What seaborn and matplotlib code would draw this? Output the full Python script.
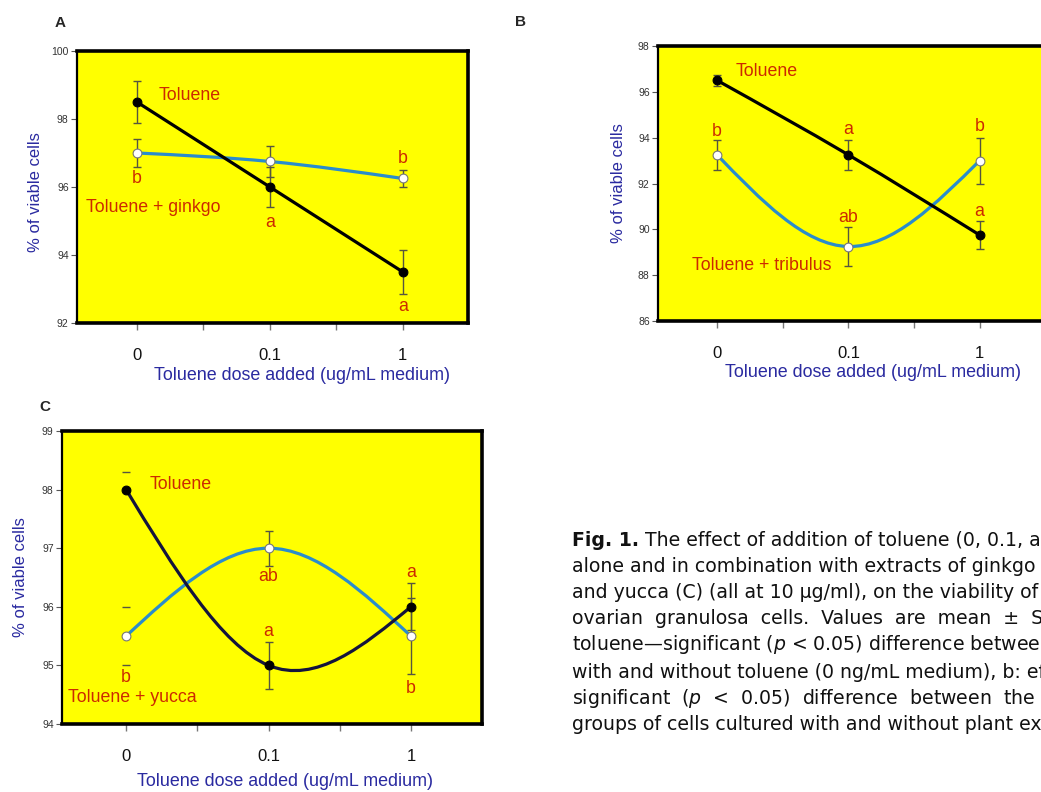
import numpy as np
import matplotlib
matplotlib.use("Agg")
import matplotlib.pyplot as plt
from matplotlib.path import Path
from matplotlib.patches import PathPatch
import seaborn as sns

# ---- data (mean % viable cells, +/- SE) ----
doses = ["0", "0.1", "1"]

tol_A = [98.5, 96.0, 93.5]
tol_A_err = [0.63, 0.6, 0.65]
ginkgo = [97.0, 96.75, 96.25]
ginkgo_err = [0.4, 0.45, 0.25]

tol_B = [96.5, 93.25, 89.75]
tol_B_err = [0.25, 0.65, 0.6]
tribulus = [93.25, 89.25, 93.0]
tribulus_err = [0.65, 0.85, 1.0]

tol_C = [98.0, 95.0, 96.0]
tol_C_err = [0.3, 0.4, 0.4]
yucca = [95.5, 97.0, 95.5]
yucca_err = [0.5, 0.3, 0.65]

sns.set_theme(style="ticks")
plt.rcParams["font.family"] = ["Liberation Sans", "DejaVu Sans"]

RED = "#cc2a00"
BLUE_LINE = "#2a8ccc"
LABEL_BLUE = "#2a2aa0"
YELLOW = "#ffff00"


def spline_path(xs, ys):
    # smooth curve through the three points (natural cubic spline as bezier segments)
    m1 = 1.5 * (ys[0] - 2 * ys[1] + ys[2])
    d = [ys[1] - ys[0] - m1 / 6, ys[1] - ys[0] + m1 / 3, ys[2] - ys[1] + m1 / 6]
    verts = [(xs[0], ys[0])]
    codes = [Path.MOVETO]
    for i in range(2):
        verts += [(xs[i] + 1 / 3, ys[i] + d[i] / 3),
                  (xs[i + 1] - 1 / 3, ys[i + 1] - d[i + 1] / 3),
                  (xs[i + 1], ys[i + 1])]
        codes += [Path.CURVE4] * 3
    return Path(verts, codes)


def panel(ax, tol, tol_err, plant, plant_err, ylim, ystep, xlim, tol_color, hide_first=False):
    x = np.arange(len(doses))
    ax.set_facecolor(YELLOW)
    # error bars
    for xi in x:
        stem = 0 if (hide_first and xi == 0) else 1
        lo_t = 0 if (hide_first and xi == 0) else tol_err[xi]
        ax.errorbar(xi, tol[xi], yerr=[[lo_t], [tol_err[xi]]], fmt="none",
                    ecolor="#555540", elinewidth=stem, capsize=3, capthick=1, zorder=2)
        ax.errorbar(xi, plant[xi], yerr=plant_err[xi], fmt="none",
                    ecolor="#555540", elinewidth=stem, capsize=3, capthick=1, zorder=2)
    # lines
    ax.add_patch(PathPatch(spline_path(x, plant), fill=False, ec=BLUE_LINE, lw=2.3, zorder=3))
    ax.add_patch(PathPatch(spline_path(x, tol), fill=False, ec=tol_color, lw=2.3, zorder=4))
    # markers
    sns.scatterplot(x=x, y=plant, ax=ax, color="white", edgecolor="#777777",
                    s=40, linewidth=0.8, zorder=5)
    sns.scatterplot(x=x, y=tol, ax=ax, color="black", edgecolor="black",
                    s=40, linewidth=0.8, zorder=6)

    ax.set_xlim(*xlim)
    ax.set_ylim(*ylim)
    ax.set_yticks(np.arange(ylim[0], ylim[1] + 0.01, ystep))
    ax.set_yticklabels([f"{v:g}" for v in np.arange(ylim[0], ylim[1] + 0.01, ystep)],
                       fontsize=7.5, color="#333333")
    ax.set_xticks(x)
    ax.set_xticklabels(doses, fontsize=12, color="#111111")
    ax.set_xticks([0.5, 1.5], minor=True)
    ax.tick_params(axis="x", which="both", length=5, width=1, color="#777777", pad=13)
    ax.tick_params(axis="y", length=4, width=0.8, color="#555555", pad=2)
    for s in ["top", "bottom", "right"]:
        ax.spines[s].set_linewidth(2.6)
        ax.spines[s].set_color("black")
    ax.spines["left"].set_linewidth(1.6)
    ax.spines["left"].set_color("black")
    ax.set_ylabel("% of viable cells", fontsize=12, color=LABEL_BLUE)
    ax.set_xlabel("Toluene dose added (ug/mL medium)", fontsize=12.9, color=LABEL_BLUE)


def note(ax, x, y, s, ha="center"):
    ax.text(x, y, s, color=RED, fontsize=12.8, ha=ha, va="center", zorder=7)


fig = plt.figure(figsize=(10.41, 7.92), dpi=100)
fig.patch.set_facecolor("white")

# ---- A ----
axA = fig.add_axes([0.0740, 0.5922, 0.3756, 0.3434])
panel(axA, tol_A, tol_A_err, ginkgo, ginkgo_err, (92, 100), 2, (-0.45, 2.49), "black")
axA.xaxis.set_label_coords(0.575, -0.162)
axA.yaxis.set_label_coords(-0.087, 0.48)
note(axA, 0.40, 98.7, "Toluene")
note(axA, 0, 96.24, "b")
note(axA, 0.12, 95.41, "Toluene + ginkgo")
note(axA, 1, 94.97, "a")
note(axA, 2, 96.85, "b")
note(axA, 2, 92.47, "a")

# ---- B ----
axB = fig.add_axes([0.6321, 0.5947, 0.3708, 0.3472])
panel(axB, tol_B, tol_B_err, tribulus, tribulus_err, (86, 98), 2, (-0.45, 2.49), "black")
axB.xaxis.set_label_coords(0.556, -0.156)
axB.yaxis.set_label_coords(-0.083, 0.5)
note(axB, 0.38, 96.87, "Toluene")
note(axB, 0, 94.25, "b")
note(axB, 1, 94.34, "a")
note(axB, 2, 94.47, "b")
note(axB, 1, 90.5, "ab")
note(axB, 2, 90.8, "a")
note(axB, 0.34, 88.44, "Toluene + tribulus")

# ---- C ----
axC = fig.add_axes([0.0596, 0.0859, 0.4035, 0.3699])
panel(axC, tol_C, tol_C_err, yucca, yucca_err, (94, 99), 1, (-0.45, 2.5), "#14143c",
      hide_first=True)
axC.xaxis.set_label_coords(0.53, -0.167)
axC.yaxis.set_label_coords(-0.081, 0.5)
note(axC, 0.38, 98.08, "Toluene")
note(axC, 1, 96.51, "ab")
note(axC, 1, 95.57, "a")
note(axC, 2, 96.58, "a")
note(axC, 0, 94.79, "b")
note(axC, 0.04, 94.46, "Toluene + yucca")
note(axC, 2, 94.61, "b")

# panel letters
fig.text(60 / 1041, 1 - 23 / 792, "A", fontsize=11, fontweight="bold", ha="center", va="center")
fig.text(520 / 1041, 1 - 22 / 792, "B", fontsize=11, fontweight="bold", ha="center", va="center")
fig.text(45 / 1041, 1 - 407 / 792, "C", fontsize=11, fontweight="bold", ha="center", va="center")

# caption
cap_lines = [
    None,
    "alone and in combination with extracts of ginkgo (A), tribulus (B)",
    "and yucca (C) (all at 10 µg/ml), on the viability of cultured porcine",
    "ovarian  granulosa  cells.  Values  are  mean  ±  SEM.  a: effect of",
    "toluene\u2014significant ($p$ < 0.05) difference between groups of cells",
    "with and without toluene (0 ng/mL medium), b: effect of plant extract",
    "significant  ($p$  <  0.05)  difference  between  the  corresponding",
    "groups of cells cultured with and without plant extract.",
]
x0 = 572 / 1041
line_y = [540, 567, 593, 619, 645, 672, 698, 724]
capfont = dict(fontsize=13.6, family="DejaVu Sans", color="#111111", va="center", ha="left")
t = fig.text(x0, 1 - line_y[0] / 792, "Fig. 1.", fontweight="bold", **capfont)
fig.canvas.draw()
bb = t.get_window_extent()
fig.text(bb.x1 / fig.bbox.width, 1 - line_y[0] / 792,
         " The effect of addition of toluene (0, 0.1, and 1 µg/mL medium)", **capfont)
for yy, s in zip(line_y[1:], cap_lines[1:]):
    fig.text(x0, 1 - yy / 792, s, **capfont)

fig.savefig("out.png", dpi=100, facecolor="white")
